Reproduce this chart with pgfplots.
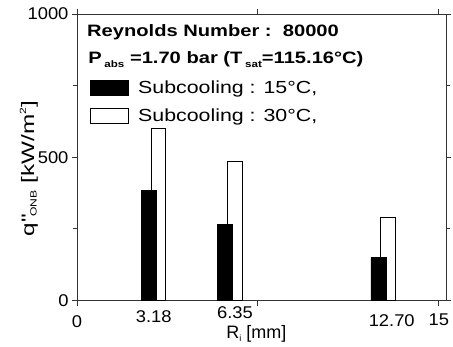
\documentclass[border=0pt]{standalone}
\usepackage{fontspec}
\setmainfont{Liberation Sans}
\newfontfamily\wide{Liberation Sans}[FakeStretch=1.22]
\newfontfamily\ywide{Liberation Sans}[FakeStretch=1.35]
\newfontfamily\tickf{Liberation Sans}[FakeStretch=1.08]
\usepackage{pgfplots}
\pgfplotsset{compat=1.18}
\newcommand{\sub}[1]{\raisebox{-4pt}{\fontsize{9.5}{10}\selectfont #1}}
\newcommand{\subl}[1]{\raisebox{-2.5pt}{\fontsize{9}{10}\selectfont #1}}
\newcommand{\sups}[1]{\raisebox{8pt}{\fontsize{9}{9}\selectfont #1}}
\begin{document}
\begin{tikzpicture}
\begin{axis}[
  at={(0,0)}, anchor=south west, scale only axis,
  width=369pt, height=286.5pt,
  xmin=0, xmax=15.3, ymin=0, ymax=1000,
  xtick={0,7.5,15}, xticklabels={0,,\raisebox{2pt}{15}},
  extra x ticks={3.18,6.55,13.05},
  extra x tick labels={3.18,\raisebox{4.5pt}{6.35},\raisebox{-4pt}{12.70}},
  extra x tick style={major tick length=0pt},
  ytick={0,500,1000}, minor y tick num=1,
  tick align=outside, major tick length=5pt, minor tick length=4pt,
  axis line style={line width=0.8pt, black!80},
  tick style={line width=0.8pt, black!80},
  tick label style={font=\tickf\fontsize{17}{20}\selectfont},
  xticklabel style={anchor=base, yshift=-22pt},
  /pgf/number format/assume math mode=true,
  /pgf/number format/1000 sep={},
  xlabel={R\subl{i} [mm]},
  ylabel={q\textquotedbl\subl{ONB} [kW/m\sups{2}]},
  xlabel style={font=\fontsize{18}{20}\selectfont, at={(axis description cs:0.486,-0.134)}, anchor=base},
  ylabel style={font=\ywide\fontsize{18}{20}\selectfont, at={(axis description cs:-0.1165,0.46)}, anchor=base},
]
\addplot[ybar, bar width=0.60, bar shift=0.19, fill=white, draw=black, line width=0.8pt]
  coordinates {(3.18,600) (6.35,485) (12.70,290)};
\addplot[ybar, bar width=0.62, bar shift=-0.20, fill=black, draw=black, line width=0.8pt]
  coordinates {(3.18,385) (6.35,265) (12.70,150)};
\node[anchor=base west, inner sep=0pt, font=\wide\bfseries\fontsize{16.5}{20}\selectfont]
  at (rel axis cs:0.027,0.9208) {Reynolds Number :\ \ 80000};
\node[anchor=base west, inner sep=0pt, font=\wide\bfseries\fontsize{16.5}{20}\selectfont]
  at (rel axis cs:0.030,0.8255) {P\,\sub{abs} =1.70 bar (T\,\sub{sat}=115.16°C)};
\draw[fill=black, line width=0.8pt] (rel axis cs:0.0352,0.7696) rectangle (rel axis cs:0.1382,0.7173);
\draw[fill=white, line width=0.8pt] (rel axis cs:0.0352,0.6719) rectangle (rel axis cs:0.1382,0.6195);
\node[anchor=base west, inner sep=0pt, font=\wide\fontsize{17.5}{20}\selectfont]
  at (rel axis cs:0.1653,0.7237) {Subcooling : 15°C,};
\node[anchor=base west, inner sep=0pt, font=\wide\fontsize{17.5}{20}\selectfont]
  at (rel axis cs:0.1653,0.6265) {Subcooling : 30°C,};
\end{axis}
\pgfresetboundingbox
\path (-77pt,-45.5pt) rectangle (376pt,300.5pt);
\end{tikzpicture}
\end{document}
